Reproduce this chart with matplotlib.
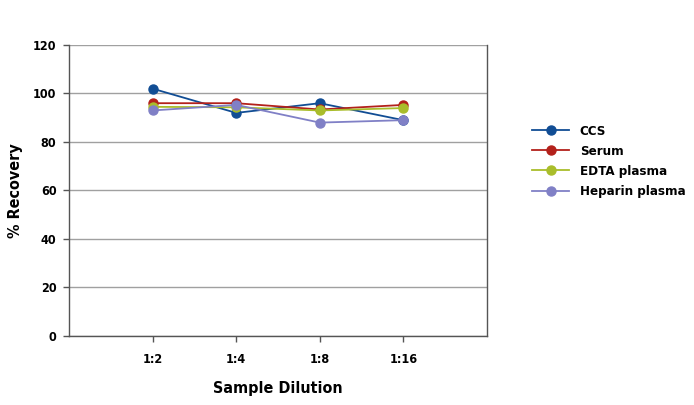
import matplotlib
matplotlib.use('Agg')
import matplotlib.pyplot as plt

dilutions = ['1:2', '1:4', '1:8', '1:16']
ccs = [102, 92, 96, 89]
serum = [96, 96, 93.4, 95.3]
edta = [94.5, 94.3, 93, 94]
heparin = [93, 95.3, 88, 89]

series_names = ['CCS', 'Serum', 'EDTA plasma', 'Heparin plasma']
colors = ['#114d94', '#b3211b', '#a9bd2b', '#8080c6']

plt.rcParams['font.family'] = ['DejaVu Sans']
plt.rcParams['font.stretch'] = 'condensed'
plt.rcParams['font.weight'] = 'bold'

fig = plt.figure(figsize=(6.94, 4.05), dpi=100)
ax = fig.add_axes([0.0994, 0.1704, 0.6023, 0.7185])

x = range(1, len(dilutions) + 1)
for vals, name, c in zip([ccs, serum, edta, heparin], series_names, colors):
    ax.plot(x, vals, color=c, lw=1.3, marker='o', markersize=6.5, label=name)

ax.set_xlim(0, 5)
ax.set_ylim(0, 120)
ax.set_yticks(range(0, 121, 20))
ax.set_xticks(list(x))
ax.set_xticklabels(dilutions)
ax.yaxis.grid(True, color='#a0a0a0', lw=1)
ax.set_axisbelow(True)
ax.spines['top'].set_visible(False)
for s in ['left', 'bottom', 'right']:
    ax.spines[s].set_color('#555555')
    ax.spines[s].set_linewidth(1)
ax.tick_params(axis='both', direction='out', length=4, width=1, color='#555555',
               labelsize=9, pad=5)
ax.tick_params(axis='x', pad=8)
for lbl in ax.get_xticklabels() + ax.get_yticklabels():
    lbl.set_fontweight('bold')

ax.set_xlabel('Sample Dilution', fontsize=11.5, fontweight='bold', labelpad=11)
ax.set_ylabel('% Recovery', fontsize=11.5, fontweight='bold', labelpad=7)

leg = ax.legend(loc='center left', bbox_to_anchor=(1.08, 0.6), frameon=False,
                fontsize=9.5, handlelength=2.8, labelspacing=0.55, handletextpad=0.8)
for t in leg.get_texts():
    t.set_fontweight('bold')

fig.savefig('out.png', dpi=100)
